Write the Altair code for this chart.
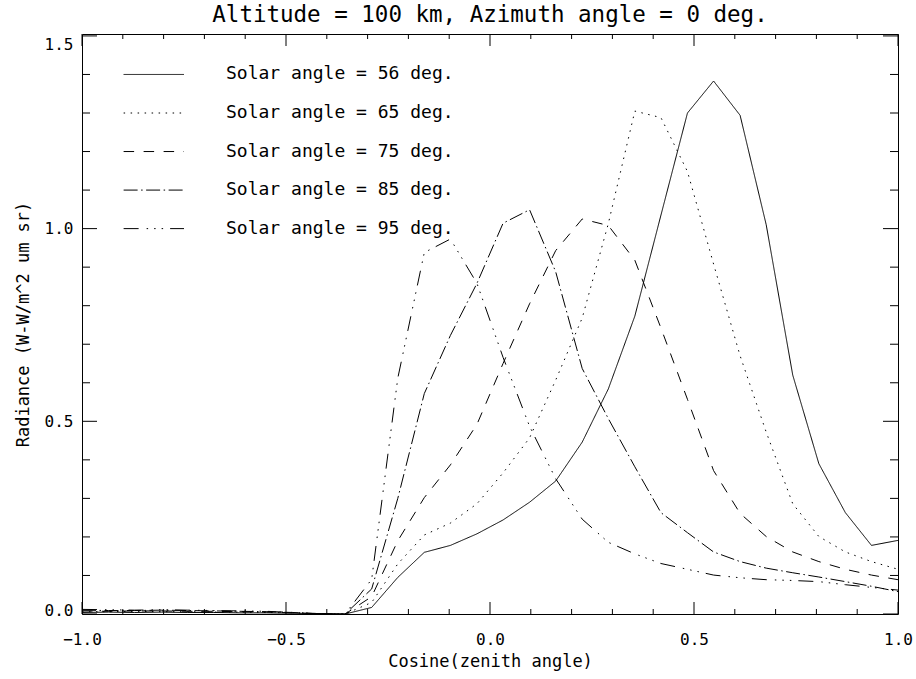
import altair as alt
import pandas as pd

# Cosine of the zenith angle (32 sample points)
cos_zenith = [-1.000, -0.935, -0.871, -0.806, -0.742, -0.677, -0.613, -0.548,
              -0.484, -0.419, -0.355, -0.290, -0.226, -0.161, -0.097, -0.032,
              0.032, 0.097, 0.161, 0.226, 0.290, 0.355, 0.419, 0.484,
              0.548, 0.613, 0.677, 0.742, 0.806, 0.871, 0.935, 1.000]

# Radiance (W-W/m^2 um sr) for each solar angle
rad_56 = [0.004, 0.005, 0.004, 0.005, 0.004, 0.004, 0.003, 0.003, 0.002, 0.001,
          0.000, 0.017, 0.095, 0.160, 0.178, 0.208, 0.244, 0.290, 0.345, 0.446,
          0.584, 0.773, 1.035, 1.300, 1.383, 1.294, 1.010, 0.620, 0.390, 0.263,
          0.178, 0.191]
rad_65 = [0.006, 0.006, 0.007, 0.006, 0.006, 0.005, 0.005, 0.004, 0.003, 0.001,
          0.000, 0.030, 0.130, 0.205, 0.236, 0.286, 0.366, 0.457, 0.607, 0.768,
          1.013, 1.305, 1.288, 1.148, 0.908, 0.670, 0.472, 0.286, 0.201, 0.161,
          0.136, 0.116]
rad_75 = [0.008, 0.007, 0.008, 0.008, 0.007, 0.007, 0.006, 0.005, 0.003, 0.001,
          0.000, 0.045, 0.190, 0.302, 0.387, 0.492, 0.650, 0.805, 0.943, 1.025,
          1.008, 0.918, 0.742, 0.557, 0.372, 0.261, 0.201, 0.161, 0.136, 0.116,
          0.101, 0.089]
rad_85 = [0.010, 0.009, 0.009, 0.010, 0.009, 0.008, 0.007, 0.006, 0.004, 0.001,
          0.000, 0.065, 0.300, 0.572, 0.723, 0.858, 1.014, 1.049, 0.888, 0.637,
          0.507, 0.382, 0.263, 0.211, 0.161, 0.136, 0.119, 0.107, 0.096, 0.084,
          0.072, 0.058]
rad_95 = [0.012, 0.011, 0.010, 0.011, 0.010, 0.009, 0.008, 0.007, 0.004, 0.001,
          0.000, 0.090, 0.612, 0.938, 0.973, 0.858, 0.666, 0.487, 0.351, 0.246,
          0.186, 0.156, 0.131, 0.116, 0.101, 0.094, 0.089, 0.087, 0.084, 0.076,
          0.069, 0.062]

series_labels = ["Solar angle = 56 deg.", "Solar angle = 65 deg.",
                 "Solar angle = 75 deg.", "Solar angle = 85 deg.",
                 "Solar angle = 95 deg."]
series_values = [rad_56, rad_65, rad_75, rad_85, rad_95]

title_text = "Altitude = 100 km, Azimuth angle = 0 deg."
x_title = "Cosine(zenith angle)"
y_title = "Radiance (W-W/m^2 um sr)"

x_major = [-1.0, -0.5, 0.0, 0.5, 1.0]
x_minor = [-0.9, -0.8, -0.7, -0.6, -0.4, -0.3, -0.2, -0.1,
           0.1, 0.2, 0.3, 0.4, 0.6, 0.7, 0.8, 0.9]
y_major = [0.0, 0.5, 1.0, 1.5]
y_minor = [0.1, 0.2, 0.3, 0.4, 0.6, 0.7, 0.8, 0.9, 1.1, 1.2, 1.3, 1.4]

# IDL-style line styles: solid, dotted, dashed, dash-dot, dash-dot-dot-dot
dash_styles = [[1, 0], [1.5, 5.5], [10.5, 9.5], [14, 3.5, 1.5, 3.5],
               [15, 8, 1.5, 6, 1.5, 6, 1.5, 7]]

W, H = 816, 580
FONT = "DejaVu Sans Mono"

rows = []
for label, vals in zip(series_labels, series_values):
    for cz, r in zip(cos_zenith, vals):
        rows.append({"series": label, "cz": cz, "rad": r})
df = pd.DataFrame(rows)

# legend rows sit on the 1.4 ... 1.0 minor ticks in the upper-left corner
leg = pd.DataFrame({
    "series": series_labels,
    "rad": [1.4 - 0.1 * i for i in range(len(series_labels))],
    "x0": -0.898, "x1": -0.75, "xt": -0.647,
})

x_scale = alt.Scale(domain=[-1, 1], nice=False, zero=False)
y_scale = alt.Scale(domain=[0, 1.505], nice=False, zero=False)
dash_scale = alt.Scale(domain=series_labels, range=dash_styles)

x_axis = alt.Axis(values=x_major, format=".1f", ticks=False, domain=False, grid=False,
                  labelFont=FONT, labelFontSize=16, labelColor="black", labelPadding=17,
                  labelFlush=False,
                  title=x_title, titleFont=FONT, titleFontSize=17,
                  titleFontWeight="normal", titleColor="black", titlePadding=6)
# end labels of the y axis are nudged inward, the top one down, the bottom one up
y_axis = alt.Axis(values=y_major, format=".1f", ticks=False, domain=False, grid=False,
                  labelFont=FONT, labelFontSize=16, labelColor="black", labelPadding=9,
                  labelFlush=False,
                  labelOffset={"condition": [{"test": "datum.value >= 1.5", "value": 9},
                                             {"test": "datum.value <= 0", "value": -4}],
                               "value": 0},
                  title=y_title, titleFont=FONT, titleFontSize=17,
                  titleFontWeight="normal", titleColor="black", titlePadding=12)

X = alt.X("cz:Q", scale=x_scale, axis=x_axis)
Y = alt.Y("rad:Q", scale=y_scale, axis=y_axis)

lines = alt.Chart(df).mark_line(color="black", strokeWidth=1).encode(
    x=X, y=Y,
    strokeDash=alt.StrokeDash("series:N", scale=dash_scale, legend=None),
    detail="series:N",
    order="cz:Q",
)

leg_lines = alt.Chart(leg).mark_rule(color="black", strokeWidth=1).encode(
    x=X, x2="x1:Q", y=Y,
    strokeDash=alt.StrokeDash("series:N", scale=dash_scale, legend=None),
).transform_calculate(cz="datum.x0")

leg_text = alt.Chart(leg).mark_text(
    align="left", baseline="alphabetic", dy=5, font=FONT, fontSize=18, color="black"
).encode(x=X, y=Y, text="series:N").transform_calculate(cz="datum.xt")


def tick_layer(values, channel, size, side):
    d = pd.DataFrame({channel: values})
    base = alt.Chart(d).mark_rule(color="black", strokeWidth=1)
    if channel == "cz":
        if side == "bottom":
            return base.encode(x=X, y=alt.value(H), y2=alt.value(H - size))
        return base.encode(x=X, y=alt.value(0), y2=alt.value(size))
    if side == "left":
        return base.encode(y=Y, x=alt.value(0), x2=alt.value(size))
    return base.encode(y=Y, x=alt.value(W), x2=alt.value(W - size))


ticks = [
    tick_layer(x_major, "cz", 12, "bottom"), tick_layer(x_major, "cz", 12, "top"),
    tick_layer(x_minor, "cz", 5, "bottom"), tick_layer(x_minor, "cz", 5, "top"),
    tick_layer(y_major, "rad", 15, "left"), tick_layer(y_major, "rad", 15, "right"),
    tick_layer(y_minor, "rad", 8, "left"), tick_layer(y_minor, "rad", 8, "right"),
]

title = alt.Chart(pd.DataFrame({"t": [title_text]})).mark_text(
    align="center", baseline="alphabetic", font=FONT, fontSize=22.5, color="black"
).encode(x=alt.value(W / 2), y=alt.value(-12), text="t:N")

chart = alt.layer(lines, leg_lines, leg_text, *ticks, title).properties(
    width=W, height=H,
    autosize=alt.AutoSizeParams(type="none"),
    padding={"left": 82, "top": 34, "right": 18, "bottom": 65},
    background="white",
).configure_view(stroke="black", strokeWidth=1)

chart.save("out.html", embed_options={"renderer": "svg", "actions": False})
